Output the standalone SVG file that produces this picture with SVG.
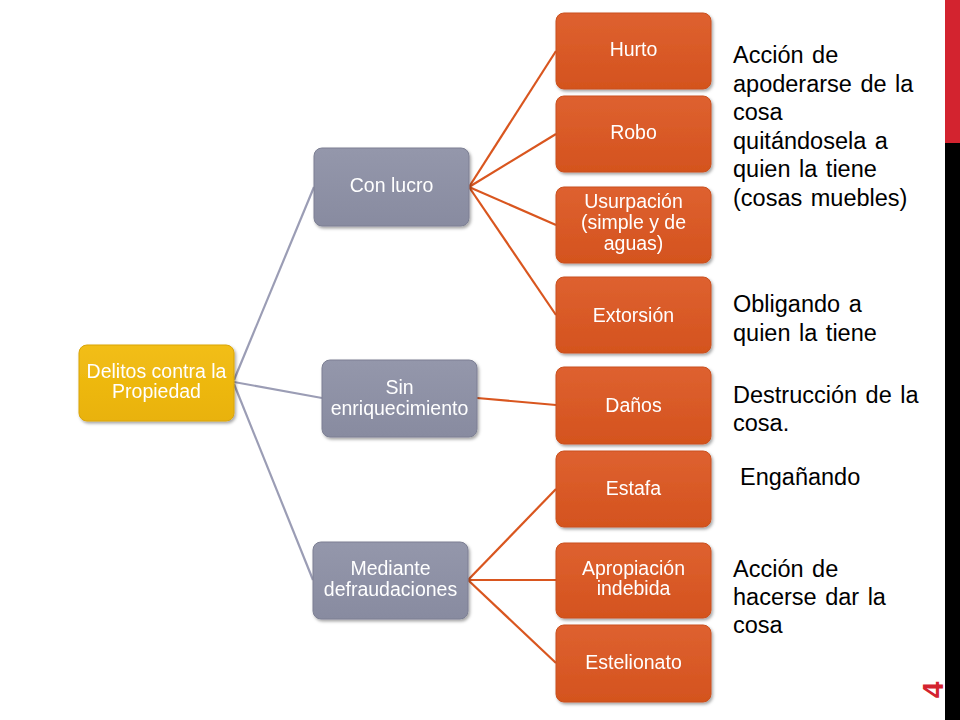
<svg xmlns="http://www.w3.org/2000/svg" width="960" height="720" viewBox="0 0 960 720">
<defs>
<linearGradient id="gOr" x1="0" y1="0" x2="0" y2="1">
<stop offset="0" stop-color="#DE6130"/><stop offset="1" stop-color="#D4531E"/>
</linearGradient>
<linearGradient id="gGr" x1="0" y1="0" x2="0" y2="1">
<stop offset="0" stop-color="#9497AB"/><stop offset="1" stop-color="#888BA0"/>
</linearGradient>
<linearGradient id="gYe" x1="0" y1="0" x2="0" y2="1">
<stop offset="0" stop-color="#F2BE18"/><stop offset="1" stop-color="#E9B208"/>
</linearGradient>
<filter id="sh" x="-10%" y="-10%" width="125%" height="130%">
<feDropShadow dx="1.5" dy="2" stdDeviation="1.5" flood-color="#000" flood-opacity="0.35"/>
</filter>
<style>
.n{filter:url(#sh)}
.or{fill:url(#gOr);stroke:#C9501E;stroke-width:1}
.gr{fill:url(#gGr);stroke:#7C7F93;stroke-width:1}
.ye{fill:url(#gYe);stroke:#D9A408;stroke-width:1}
.t{font-family:"Liberation Sans",Arial,sans-serif;font-size:19.5px;fill:#fff;text-anchor:middle}
.d{font-family:"Liberation Sans",Arial,sans-serif;font-size:23.5px;fill:#000;word-spacing:2px}
.cg{stroke:#9B9DB5;stroke-width:2.2;fill:none}
.co{stroke:#D9561F;stroke-width:2.2;fill:none}
</style>
</defs>
<rect x="0" y="0" width="960" height="720" fill="#fff"/>
<rect x="945" y="0" width="15" height="143" fill="#D3232F"/>
<rect x="945" y="143" width="15" height="577" fill="#000"/>
<g id="connectors">
<line class="cg" x1="234" y1="380" x2="314" y2="187"/>
<line class="cg" x1="234" y1="382" x2="322" y2="398"/>
<line class="cg" x1="234" y1="384" x2="313" y2="580"/>
<line class="co" x1="469" y1="187" x2="556" y2="51"/>
<line class="co" x1="469" y1="187" x2="556" y2="134"/>
<line class="co" x1="469" y1="187" x2="556" y2="225"/>
<line class="co" x1="469" y1="187" x2="556" y2="315"/>
<line class="co" x1="477" y1="398" x2="556" y2="405"/>
<line class="co" x1="468" y1="580" x2="556" y2="489"/>
<line class="co" x1="468" y1="580" x2="556" y2="580"/>
<line class="co" x1="468" y1="580" x2="556" y2="663"/>
</g>
<g id="root" class="n"><rect class="ye" x="79" y="345" width="155" height="76" rx="8"/>
<text class="t" x="156.5" y="378">Delitos contra la</text><text class="t" x="156.5" y="398">Propiedad</text></g>
<g id="conlucro" class="n"><rect class="gr" x="314" y="148" width="155" height="78" rx="8"/>
<text class="t" x="391.5" y="192">Con lucro</text></g>
<g id="sin" class="n"><rect class="gr" x="322" y="360" width="155" height="77" rx="8"/>
<text class="t" x="399.5" y="394">Sin</text><text class="t" x="399.5" y="415">enriquecimiento</text></g>
<g id="mediante" class="n"><rect class="gr" x="313" y="542" width="155" height="77" rx="8"/>
<text class="t" x="390.5" y="575">Mediante</text><text class="t" x="390.5" y="596">defraudaciones</text></g>
<g id="hurto" class="n"><rect class="or" x="556" y="13" width="155" height="76" rx="8"/>
<text class="t" x="633.5" y="56">Hurto</text></g>
<g id="robo" class="n"><rect class="or" x="556" y="96" width="155" height="76" rx="8"/>
<text class="t" x="633.5" y="139">Robo</text></g>
<g id="usurpacion" class="n"><rect class="or" x="556" y="187" width="155" height="76" rx="8"/>
<text class="t" x="633.5" y="208">Usurpación</text><text class="t" x="633.5" y="229">(simple y de</text><text class="t" x="633.5" y="250">aguas)</text></g>
<g id="extorsion" class="n"><rect class="or" x="556" y="277" width="155" height="76" rx="8"/>
<text class="t" x="633.5" y="322">Extorsión</text></g>
<g id="danos" class="n"><rect class="or" x="556" y="367" width="155" height="77" rx="8"/>
<text class="t" x="633.5" y="412">Daños</text></g>
<g id="estafa" class="n"><rect class="or" x="556" y="451" width="155" height="76" rx="8"/>
<text class="t" x="633.5" y="495">Estafa</text></g>
<g id="apropiacion" class="n"><rect class="or" x="556" y="543" width="155" height="75" rx="8"/>
<text class="t" x="633.5" y="575">Apropiación</text><text class="t" x="633.5" y="595">indebida</text></g>
<g id="estelionato" class="n"><rect class="or" x="556" y="625" width="155" height="77" rx="8"/>
<text class="t" x="633.5" y="669">Estelionato</text></g>
<g id="notes">
<text class="d" x="733" y="63">Acción de</text>
<text class="d" x="733" y="91.5">apoderarse de la</text>
<text class="d" x="733" y="120">cosa</text>
<text class="d" x="733" y="148.5">quitándosela a</text>
<text class="d" x="733" y="177">quien la tiene</text>
<text class="d" x="733" y="205.5">(cosas muebles)</text>
<text class="d" x="733" y="312">Obligando a</text>
<text class="d" x="733" y="341">quien la tiene</text>
<text class="d" x="733" y="403">Destrucción de la</text>
<text class="d" x="733" y="431">cosa.</text>
<text class="d" x="740" y="485">Engañando</text>
<text class="d" x="733" y="577">Acción de</text>
<text class="d" x="733" y="605">hacerse dar la</text>
<text class="d" x="733" y="633">cosa</text>
</g>
<text x="0" y="0" transform="translate(943 690) rotate(-90)" font-family="'Liberation Sans',Arial,sans-serif" font-size="30" font-weight="bold" fill="#D3232F" text-anchor="middle">4</text>
</svg>
